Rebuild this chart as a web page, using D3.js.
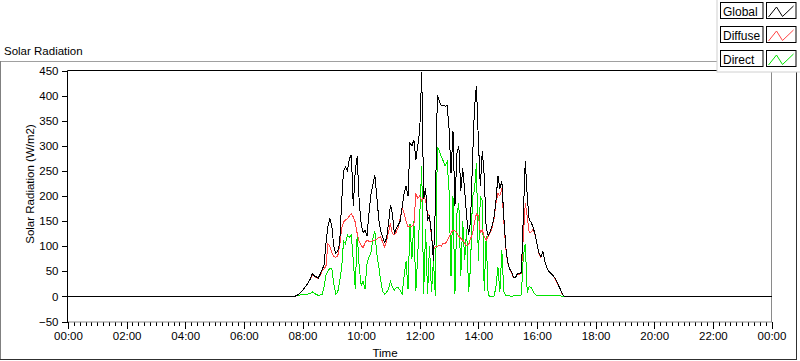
<!DOCTYPE html>
<html>
<head>
<meta charset="utf-8">
<script src="https://cdn.jsdelivr.net/npm/d3@7"></script>
<style>
  body { margin: 0; background: #fff; }
  svg { font-family: "Liberation Sans", Arial, sans-serif; }
</style>
</head>
<body>
<script>
const width = 800;
const height = 361;

// logger samples: one reading every 4 minutes from 07:40 to 17:00 (night is 0)
const sampleStart = "07:40";
const sampleStep = 4;

const globalRad = [
  0, 0, 2, 4, 8, 12, 17, 22, 28, 35,
  45, 41, 39, 36, 44, 53, 62, 105, 140, 155,
  140, 100, 86, 90, 105, 186, 250, 258, 250, 274,
  282, 180, 250, 279, 190, 145, 127, 132, 120, 165,
  202, 222, 242, 200, 155, 130, 118, 108, 115, 145,
  182, 165, 126, 135, 142, 150, 178, 206, 220, 200,
  305, 300, 312, 272, 300, 330, 447, 195, 215, 152,
  160, 125, 70, 180, 400, 389, 380, 380, 379, 380,
  335, 245, 330, 180, 285, 300, 210, 255, 210, 160,
  122, 150, 270, 375, 420, 310, 220, 290, 240, 135,
  122, 128, 140, 158, 190, 240, 215, 230, 160, 100,
  68, 55, 48, 38, 38, 45, 45, 48, 160, 270,
  200, 152, 148, 137, 125, 105, 86, 79, 90, 70,
  58, 50, 46, 42, 38, 30, 22, 14, 4, 0,
  0
];

const diffuseRad = [
  0, 0, 2, 4, 8, 12, 17, 22, 28, 35,
  43, 40, 38, 35, 42, 50, 55, 60, 105, 100,
  88, 79, 78, 80, 100, 135, 148, 152, 155, 160,
  165, 158, 148, 125, 110, 102, 96, 107, 112, 110,
  109, 111, 112, 114, 117, 119, 108, 99, 110, 128,
  145, 125, 123, 128, 138, 155, 178, 165, 150, 139,
  139, 140, 142, 205, 195, 200, 190, 200, 192, 165,
  158, 120, 93, 100, 99, 102, 100, 106, 106, 110,
  119, 126, 132, 131, 126, 120, 116, 112, 106, 101,
  103, 115, 125, 147, 165, 160, 128, 132, 119, 112,
  120, 126, 137, 155, 185, 205, 200, 215, 150, 98,
  66, 54, 47, 37, 37, 44, 44, 46, 120, 185,
  160, 128, 128, 134, 123, 104, 85, 78, 89, 70,
  57, 49, 45, 41, 37, 29, 21, 13, 4, 0,
  0
];

const directRad = [
  0, 0, 1, 2, 3, 3, 4, 4, 5, 6,
  9, 6, 4, 2, 3, 4, 19, 42, 50, 56,
  55, 25, 5, 8, 30, 55, 110, 105, 122, 118,
  122, 72, 15, 125, 60, 22, 30, 15, 65, 78,
  86, 115, 130, 85, 60, 32, 10, 5, 8, 15,
  30, 19, 12, 18, 17, 12, 5, 40, 70, 15,
  145, 75, 150, 10, 85, 160, 259, 5, 135, 5,
  100, 8, 72, 0, 298, 290, 279, 270, 260, 268,
  210, 40, 200, 5, 165, 185, 40, 150, 72, 135,
  8, 60, 200, 210, 265, 70, 200, 190, 10, 120,
  3, 0, 0, 0, 19, 59, 8, 92, 10, 2,
  1, 1, 0, 1, 2, 1, 1, 3, 80, 105,
  8, 19, 18, 10, 4, 1, 2, 1, 1, 2,
  1, 1, 2, 1, 1, 1, 2, 1, 0, 0,
  0
];

const yTicks = [-50, 0, 50, 100, 150, 200, 250, 300, 350, 400, 450];
const xTickLabels = ["00:00", "02:00", "04:00", "06:00", "08:00", "10:00", "12:00",
                     "14:00", "16:00", "18:00", "20:00", "22:00", "00:00"];
const seriesNames = ["Global", "Diffuse", "Direct"];

const colors = { Global: "#000000", Diffuse: "#ff4444", Direct: "#00e400" };

function toMinutes(s) {
  const p = s.split(":");
  return +p[0] * 60 + +p[1];
}

// build time/value points, with the flat zero line before and after the day
function series(values) {
  const t0 = toMinutes(sampleStart);
  const pts = [{ t: 0, v: 0 }];
  values.forEach((v, i) => pts.push({ t: t0 + i * sampleStep, v: v }));
  pts.push({ t: 1440, v: 0 });
  return pts;
}

const data = {
  Global: series(globalRad),
  Diffuse: series(diffuseRad),
  Direct: series(directRad)
};

var svg = d3.select("body")
  .append("svg")
  .attr("width", width)
  .attr("height", height);

// outer frame of the graph
svg.append("line").attr("x1", 0).attr("x2", 797).attr("y1", 61.5).attr("y2", 61.5)
  .attr("stroke", "#a0a0a0");
svg.append("line").attr("x1", 0.5).attr("x2", 0.5).attr("y1", 61).attr("y2", 360)
  .attr("stroke", "#808080");
svg.append("line").attr("x1", 0).attr("x2", 797).attr("y1", 359.5).attr("y2", 359.5)
  .attr("stroke", "#303030");
svg.append("line").attr("x1", 796.5).attr("x2", 796.5).attr("y1", 61).attr("y2", 360)
  .attr("stroke", "#303030");

svg.append("text")
  .attr("x", 4).attr("y", 55)
  .style("font-size", "11.5px")
  .text("Solar Radiation");

var x = d3.scaleLinear().domain([0, 1440]).range([68, 771.5]);
var y = d3.scaleLinear().domain([-50, 450]).range([321.5, 70.5]);

// plot border: dark top/left, grey bottom/right
svg.append("line").attr("x1", 67.5).attr("x2", 772).attr("y1", 70.5).attr("y2", 70.5)
  .attr("stroke", "#000");
svg.append("line").attr("x1", 771.5).attr("x2", 771.5).attr("y1", 70.5).attr("y2", 322)
  .attr("stroke", "#8a8a8a");

// x axis, minor ticks every 12 minutes
svg.append("g")
  .attr("transform", "translate(0,321.5)")
  .call(d3.axisBottom(x).tickValues(d3.range(0, 1441, 12)).tickSize(4).tickFormat(""))
  .call(g => g.select(".domain").remove())
  .selectAll("line").attr("shape-rendering", "crispEdges");

var xAxis = svg.append("g")
  .attr("transform", "translate(0,321.5)")
  .call(d3.axisBottom(x)
    .tickValues(d3.range(0, 1441, 120))
    .tickSize(7)
    .tickPadding(3)
    .tickFormat((d, i) => xTickLabels[i]));
xAxis.select(".domain").attr("stroke", "#8a8a8a").attr("d", "M67.5,0.5H772");
xAxis.selectAll("line").attr("shape-rendering", "crispEdges");
xAxis.selectAll("text").style("font-size", "11.5px").attr("fill", "#000");

var yAxis = svg.append("g")
  .attr("transform", "translate(67.5,0)")
  .call(d3.axisLeft(y).tickValues(yTicks).tickSize(6).tickPadding(3));
yAxis.select(".domain").attr("d", "M0,70.5V322");
yAxis.selectAll("line").attr("shape-rendering", "crispEdges");
yAxis.selectAll("text").style("font-size", "11.5px").attr("fill", "#000");

svg.append("text")
  .attr("transform", "translate(34,184) rotate(-90)")
  .attr("text-anchor", "middle")
  .style("font-size", "11.5px")
  .text("Solar Radiation (W/m2)");

svg.append("text")
  .attr("x", 385).attr("y", 357)
  .attr("text-anchor", "middle")
  .style("font-size", "11.5px")
  .text("Time");

var line = d3.line()
  .x(d => x(d.t))
  .y(d => y(d.v));

// direct first, global last (global sits on top); aliased like the original
["Direct", "Diffuse", "Global"].forEach(function(name) {
  svg.append("path")
    .datum(data[name])
    .attr("fill", "none")
    .attr("stroke", colors[name])
    .attr("stroke-width", 1)
    .attr("shape-rendering", "crispEdges")
    .attr("d", line);
});

// legend panel in the top right corner
var legend = svg.append("g");
legend.append("rect")
  .attr("x", 717).attr("y", -1).attr("width", 90).attr("height", 73)
  .attr("fill", "#fff").attr("stroke", "#d0d0d0");

var swatch = [[2, 14.5], [10, 4.5], [16, 14], [27, 3.5]];

seriesNames.forEach(function(name, i) {
  var top = Math.round(2 + i * 23.75) + 0.5;
  var row = legend.append("g").attr("transform", "translate(0," + top + ")");
  row.append("rect")
    .attr("x", 720.5).attr("y", 0).attr("width", 42.5).attr("height", 16)
    .attr("fill", "#fff").attr("stroke", "#000");
  row.append("text")
    .attr("x", 723).attr("y", 13.5)
    .style("font-size", "12px")
    .text(name);
  row.append("rect")
    .attr("x", 766.5).attr("y", 0).attr("width", 29.5).attr("height", 16)
    .attr("fill", "#fff").attr("stroke", "#000");
  row.append("path")
    .attr("d", d3.line()(swatch.map(p => [766.5 + p[0], p[1]])))
    .attr("fill", "none")
    .attr("stroke", colors[name]);
});
</script>
</body>
</html>
